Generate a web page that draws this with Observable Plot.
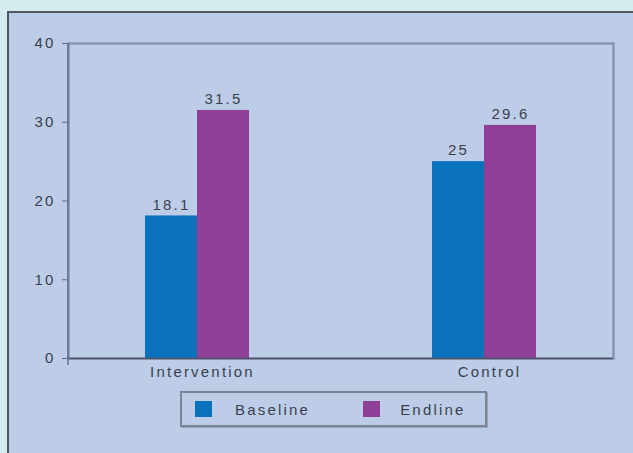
<!DOCTYPE html>
<html>
<head>
<meta charset="utf-8">
<script src="https://cdn.jsdelivr.net/npm/d3@7"></script>
<script src="https://cdn.jsdelivr.net/npm/@observablehq/plot@0.6"></script>
<style>
  html, body { margin: 0; padding: 0; background: #d5ecef; overflow: hidden; }
  body { width: 633px; height: 453px; font-family: "Liberation Sans", Arial, sans-serif; }
  #panel {
    margin-left: 7px; margin-top: 11px;
    border-left: 2px solid #51555e; border-top: 2px solid #51555e;
    background: #bdcde8; height: 440px; width: 624px;
  }
  #chart svg { display: block; }
  #legend {
    margin-left: 171px; margin-top: 1px;
    width: 303px; height: 32px;
    border: 2px solid #7c8497;
    box-shadow: 1px 1px 0 #99a3b8;
    display: flex; align-items: center;
    font-size: 15px; letter-spacing: 2.2px; color: #3b3f4e;
  }
  .sw { width: 17px; height: 16px; display: inline-block; }
</style>
</head>
<body>
<div id="panel">
  <div id="chart"></div>
  <div id="legend"></div>
</div>
<script>
// Share of respondents by study arm, before and after the programme
const groups = ["Intervention", "Control"];
const seriesNames = ["Baseline", "Endline"];
const baseline = [18.1, 25];
const endline = [31.5, 29.6];
const yTicks = [0, 10, 20, 30, 40];
const seriesColors = ["#0a72bb", "#8e3f96"];

const rows = groups.flatMap((g, i) => [
  {group: g, series: seriesNames[0], value: baseline[i]},
  {group: g, series: seriesNames[1], value: endline[i]}
]);
const half = 52; // each bar fills half of its group's band
const ink = "#3b3f4e";

const chart = Plot.plot({
  width: 624,
  height: 377,
  marginLeft: 59,
  marginRight: 20,
  marginTop: 30,
  marginBottom: 32,
  style: {background: "transparent", fontFamily: "Liberation Sans, Arial, sans-serif", fontSize: "15px", color: ink, letterSpacing: "2.2px"},
  x: {domain: groups, paddingInner: 0.6376, paddingOuter: 0.268, label: null},
  y: {domain: [0, 40], ticks: yTicks, label: null},
  color: {domain: seriesNames, range: seriesColors},
  marks: [
    Plot.frame({stroke: "#8794b3", strokeWidth: 2.5}),
    Plot.barY(rows.filter(d => d.series === seriesNames[0]), {x: "group", y: "value", fill: "series", insetRight: half}),
    Plot.barY(rows.filter(d => d.series === seriesNames[1]), {x: "group", y: "value", fill: "series", insetLeft: half}),
    Plot.text(rows.filter(d => d.series === seriesNames[0]), {x: "group", y: "value", text: d => String(d.value), dx: -half / 2, dy: -11, fill: ink}),
    Plot.text(rows.filter(d => d.series === seriesNames[1]), {x: "group", y: "value", text: d => String(d.value), dx: half / 2, dy: -11, fill: ink}),
    Plot.ruleY([0], {stroke: "#4f5566", strokeWidth: 1.5}),
    Plot.axisY({ticks: yTicks, tickSize: 6, tickPadding: 7, stroke: "#5e6880", fill: ink}),
    Plot.axisX({tickSize: 0, tickPadding: 8, dx: 5, fill: ink})
  ]
});
// darker left axis line, running a little past zero
d3.select(chart).append("line")
  .attr("x1", 59).attr("x2", 59)
  .attr("y1", 30).attr("y2", 352)
  .attr("stroke", "#66718c").attr("stroke-width", 1.5);
document.getElementById("chart").append(chart);

const legend = document.getElementById("legend");
seriesNames.forEach((name, i) => {
  const sw = document.createElement("span");
  sw.className = "sw";
  sw.style.background = seriesColors[i];
  sw.style.marginLeft = i === 0 ? "13px" : "53px";
  const label = document.createElement("span");
  label.textContent = name;
  label.style.marginLeft = i === 0 ? "23px" : "20px";
  legend.append(sw, label);
});
</script>
</body>
</html>
